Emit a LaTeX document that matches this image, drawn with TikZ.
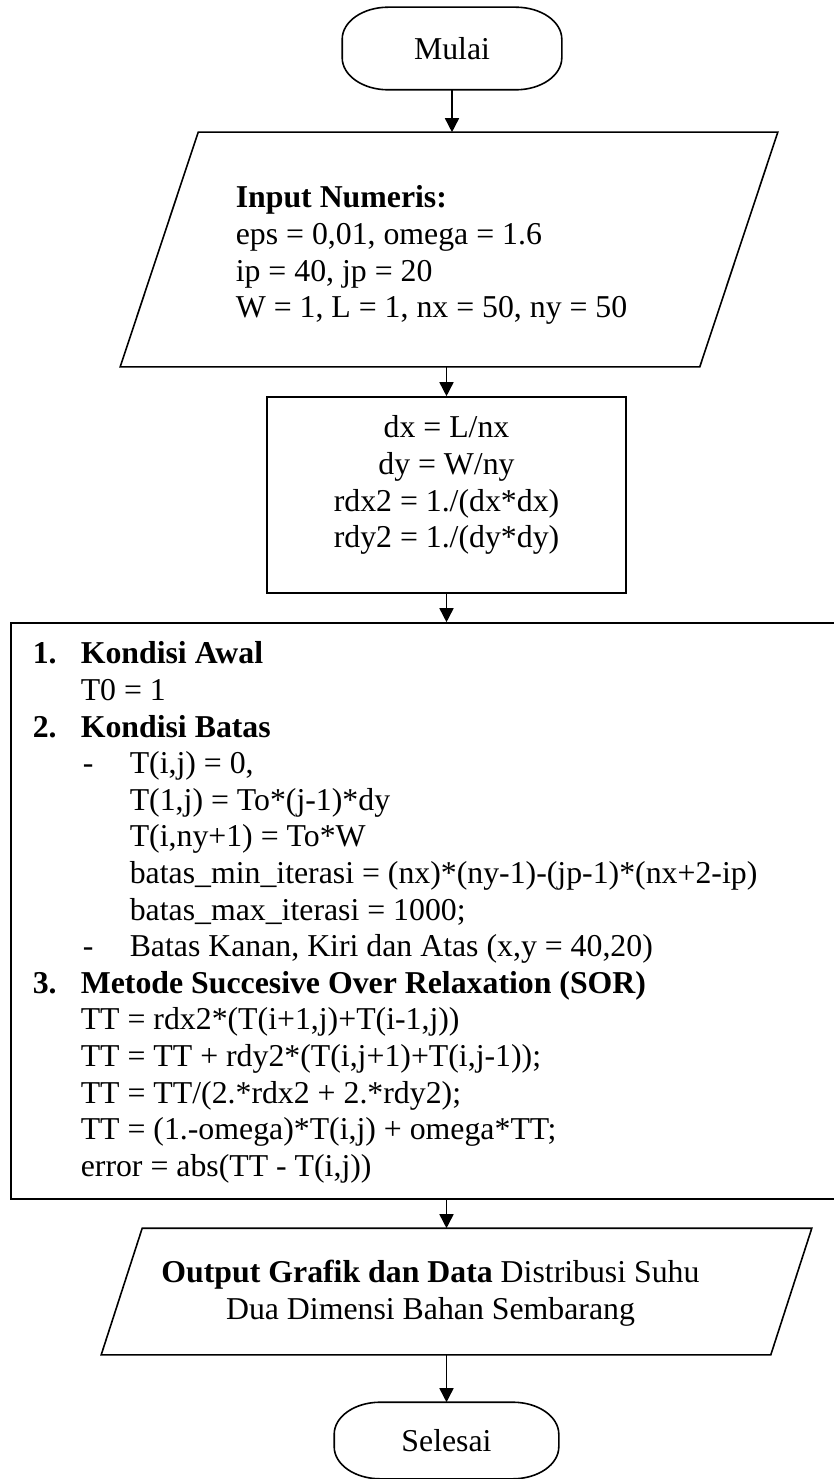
\documentclass[tikz,border=0pt]{standalone}
\usepackage{fontspec}
\setmainfont{Liberation Serif}
\usetikzlibrary{arrows.meta}
\newcommand\flowfont{\fontsize{31.8}{36.6}\selectfont}
% terminal outline with elliptical ends around a named node
\newcommand\termshape[1]{%
  \draw ([xshift=46pt]#1.north west) -- ([xshift=-46pt]#1.north east)
    arc[start angle=90, end angle=0, x radius=46pt, y radius=32pt]
    -- ([yshift=32pt]#1.south east)
    arc[start angle=0, end angle=-90, x radius=46pt, y radius=32pt]
    -- ([xshift=46pt]#1.south west)
    arc[start angle=270, end angle=180, x radius=46pt, y radius=32pt]
    -- ([yshift=-32pt]#1.north west)
    arc[start angle=180, end angle=90, x radius=46pt, y radius=32pt]
    -- cycle;}
\begin{document}
\begin{tikzpicture}[x=1pt,y=-1pt,
  line width=1.6pt,
  every node/.style={font=\flowfont, inner sep=0pt},
  frame/.style={draw},
  holder/.style={draw=none},
  flow/.style={-{Triangle[length=14pt,width=14pt]}},
  txt/.style={anchor=north west, align=left},
  ctxt/.style={anchor=north, align=center}
]
\useasboundingbox (0,0) rectangle (833,1479);

% start terminal
\node[holder, minimum width=218pt, minimum height=81pt] (start) at (452,48.5) {Mulai};
\termshape{start}

% numeric input (parallelogram)
\node[holder, minimum width=656pt, minimum height=233pt] (inp) at (449,249.5) {};
\draw ([xshift=78pt]inp.north west) -- (inp.north east)
  -- ([xshift=-78pt]inp.south east) -- (inp.south west) -- cycle;
\node[txt] (inptext) at (235,181.4) {\strut\textbf{Input Numeris:}\\
eps = 0,01, omega = 1.6\\
ip = 40, jp = 20\\
W = 1, L = 1, nx = 50, ny = 50};

% grid spacing
\node[frame, minimum width=359pt, minimum height=196pt] (calc) at (446.5,495) {};
\node[ctxt] (calctext) at (446.5,411.4) {\strut dx = L/nx\\
dy = W/ny\\
rdx2 = 1./(dx*dx)\\
rdy2 = 1./(dy*dy)};

% main process block
\node[frame, minimum width=869pt, minimum height=576pt] (proc) at (445.5,911) {};
\node[txt] (proctext) at (32,637.4) {\strut\makebox[48pt][l]{\textbf{1.}}\textbf{Kondisi Awal}\\
\hspace*{48pt}T0 = 1\\
\makebox[48pt][l]{\textbf{2.}}\textbf{Kondisi Batas}\\
\hspace*{50pt}\makebox[47pt][l]{-}T(i,j) = 0,\\
\hspace*{97pt}T(1,j) = To*(j-1)*dy\\
\hspace*{97pt}T(i,ny+1) = To*W\\
\hspace*{97pt}batas\_min\_iterasi = (nx)*(ny-1)-(jp-1)*(nx+2-ip)\\
\hspace*{97pt}batas\_max\_iterasi = 1000;\\
\hspace*{50pt}\makebox[47pt][l]{-}Batas Kanan, Kiri dan Atas (x,y = 40,20)\\
\makebox[48pt][l]{\textbf{3.}}\textbf{Metode Succesive Over Relaxation (SOR)}\\
\hspace*{48pt}TT = rdx2*(T(i+1,j)+T(i-1,j))\\
\hspace*{48pt}TT = TT + rdy2*(T(i,j+1)+T(i,j-1));\\
\hspace*{48pt}TT = TT/(2.*rdx2 + 2.*rdy2);\\
\hspace*{48pt}TT = (1.-omega)*T(i,j) + omega*TT;\\
\hspace*{48pt}error = abs(TT - T(i,j))};

% output (parallelogram)
\node[holder, minimum width=709pt, minimum height=125pt] (out) at (456.5,1291.5) {};
\draw ([xshift=41pt]out.north west) -- (out.north east)
  -- ([xshift=-41pt]out.south east) -- (out.south west) -- cycle;
\node[ctxt] (outtext) at (430.5,1256.4) {\strut\textbf{Output Grafik dan Data} Distribusi Suhu\\
Dua Dimensi Bahan Sembarang};

% end terminal
\node[holder, minimum width=223pt, minimum height=75pt] (stop) at (446.5,1440.5) {Selesai};
\termshape{stop}

% connectors
\draw[flow] (start.south) -- (start.south |- inp.north);
\draw[flow] (calc.north |- inp.south) -- (calc.north);
\draw[flow] (calc.south) -- (calc.south |- proc.north);
\draw[flow] (calc.south |- proc.south) -- (calc.south |- out.north);
\draw[flow] (stop.north |- out.south) -- (stop.north);
\end{tikzpicture}
\end{document}
